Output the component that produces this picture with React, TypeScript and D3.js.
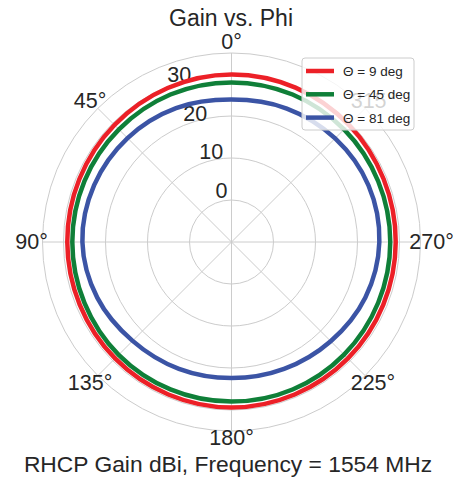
import React from "react";
import * as d3 from "d3";

const phiDeg = [0, 22.5, 45, 67.5, 90, 112.5, 135, 157.5, 180, 202.5, 225, 247.5, 270, 292.5, 315, 337.5];
const gain9 = [29.9, 29.7, 29.4, 29.2, 29.1, 29.1, 29.2, 29.3, 29.4, 29.3, 29.2, 29.1, 29.1, 29.2, 29.5, 29.8];
const gain45 = [28.0, 28.0, 27.9, 27.9, 27.9, 27.9, 28.0, 28.0, 28.0, 28.0, 27.9, 27.8, 27.8, 27.8, 27.9, 28.0];
const gain81 = [23.9, 24.5, 25.0, 25.4, 25.5, 24.6, 23.3, 22.7, 22.4, 22.7, 23.4, 24.5, 25.2, 25.3, 24.9, 24.4];
const seriesNames = ["Θ = 9 deg", "Θ = 45 deg", "Θ = 81 deg"];
const seriesColors = ["#ec2027", "#0f7f38", "#3b54a5"];
const radialTicks = [0, 10, 20, 30];
const thetaTicks = [0, 45, 90, 135, 180, 225, 270, 315];
const rDomain = [-10, 35];

const W = 470;
const H = 479;
const cx = 231.5;
const cy = 242;
const R = 189;
const grid = "#cccccc";
const textColor = "#262626";
const font = "'Liberation Sans', Arial, sans-serif";

export default function App() {
  const r = d3.scaleLinear().domain(rDomain).range([0, R]);
  const series = [gain9, gain45, gain81];
  const toRad = (d: number) => (-d * Math.PI) / 180;
  const line = d3
    .lineRadial<[number, number]>()
    .angle((d) => toRad(d[0]))
    .radius((d) => r(d[1]))
    .curve(d3.curveCatmullRomClosed);

  const pos = (deg: number, rad: number) => {
    const a = (deg * Math.PI) / 180;
    return [cx - rad * Math.sin(a), cy - rad * Math.cos(a)];
  };

  return (
    <svg
      width={W}
      height={H}
      style={{ position: "absolute", left: 0, top: 0, background: "#fff" }}
      fontFamily={font}
    >
      <text x={231} y={26} textAnchor="middle" fontSize={23} fill={textColor}>
        Gain vs. Phi
      </text>
      {radialTicks.map((t) => (
        <circle key={t} cx={cx} cy={cy} r={r(t)} fill="none" stroke={grid} strokeWidth={1} />
      ))}
      <circle cx={cx} cy={cy} r={R} fill="none" stroke={grid} strokeWidth={1} />
      {thetaTicks.map((t) => {
        const [x, y] = pos(t, R);
        return <line key={t} x1={cx} y1={cy} x2={x} y2={y} stroke={grid} strokeWidth={1} />;
      })}
      {thetaTicks.map((t) => {
        const [x, y] = pos(t, t === 180 ? 196 : 200);
        return (
          <text
            key={t}
            x={x}
            y={y}
            textAnchor="middle"
            dominantBaseline="central"
            fontSize={21.5}
            fill={textColor}
          >
            {t}°
          </text>
        );
      })}
      {radialTicks.map((t) => {
        const [x, y] = pos(22.5, r(t));
        return (
          <text key={t} x={x} y={y - 5} textAnchor="start" fontSize={21.5} fill={textColor}>
            {t}
          </text>
        );
      })}
      <g transform={`translate(${cx},${cy})`}>
        {series.map((s, i) => (
          <path
            key={i}
            d={line(phiDeg.map((p, j) => [p, s[j]] as [number, number])) || ""}
            fill="none"
            stroke={seriesColors[i]}
            strokeWidth={4.5}
          />
        ))}
      </g>
      <g>
        <rect x={302} y={58} width={112} height={72} rx={3} fill="#ffffff" fillOpacity={0.8} stroke={grid} strokeWidth={1} />
        {seriesNames.map((n, i) => {
          const y = 71 + i * 23.3;
          return (
            <g key={n}>
              <line x1={306} x2={334} y1={y} y2={y} stroke={seriesColors[i]} strokeWidth={4.5} />
              <text x={343} y={y + 5} fontSize={13.5} fill={textColor}>
                {n}
              </text>
            </g>
          );
        })}
      </g>
      <text x={228} y={472} textAnchor="middle" fontSize={22.8} fill={textColor}>
        RHCP Gain dBi, Frequency = 1554 MHz
      </text>
    </svg>
  );
}
